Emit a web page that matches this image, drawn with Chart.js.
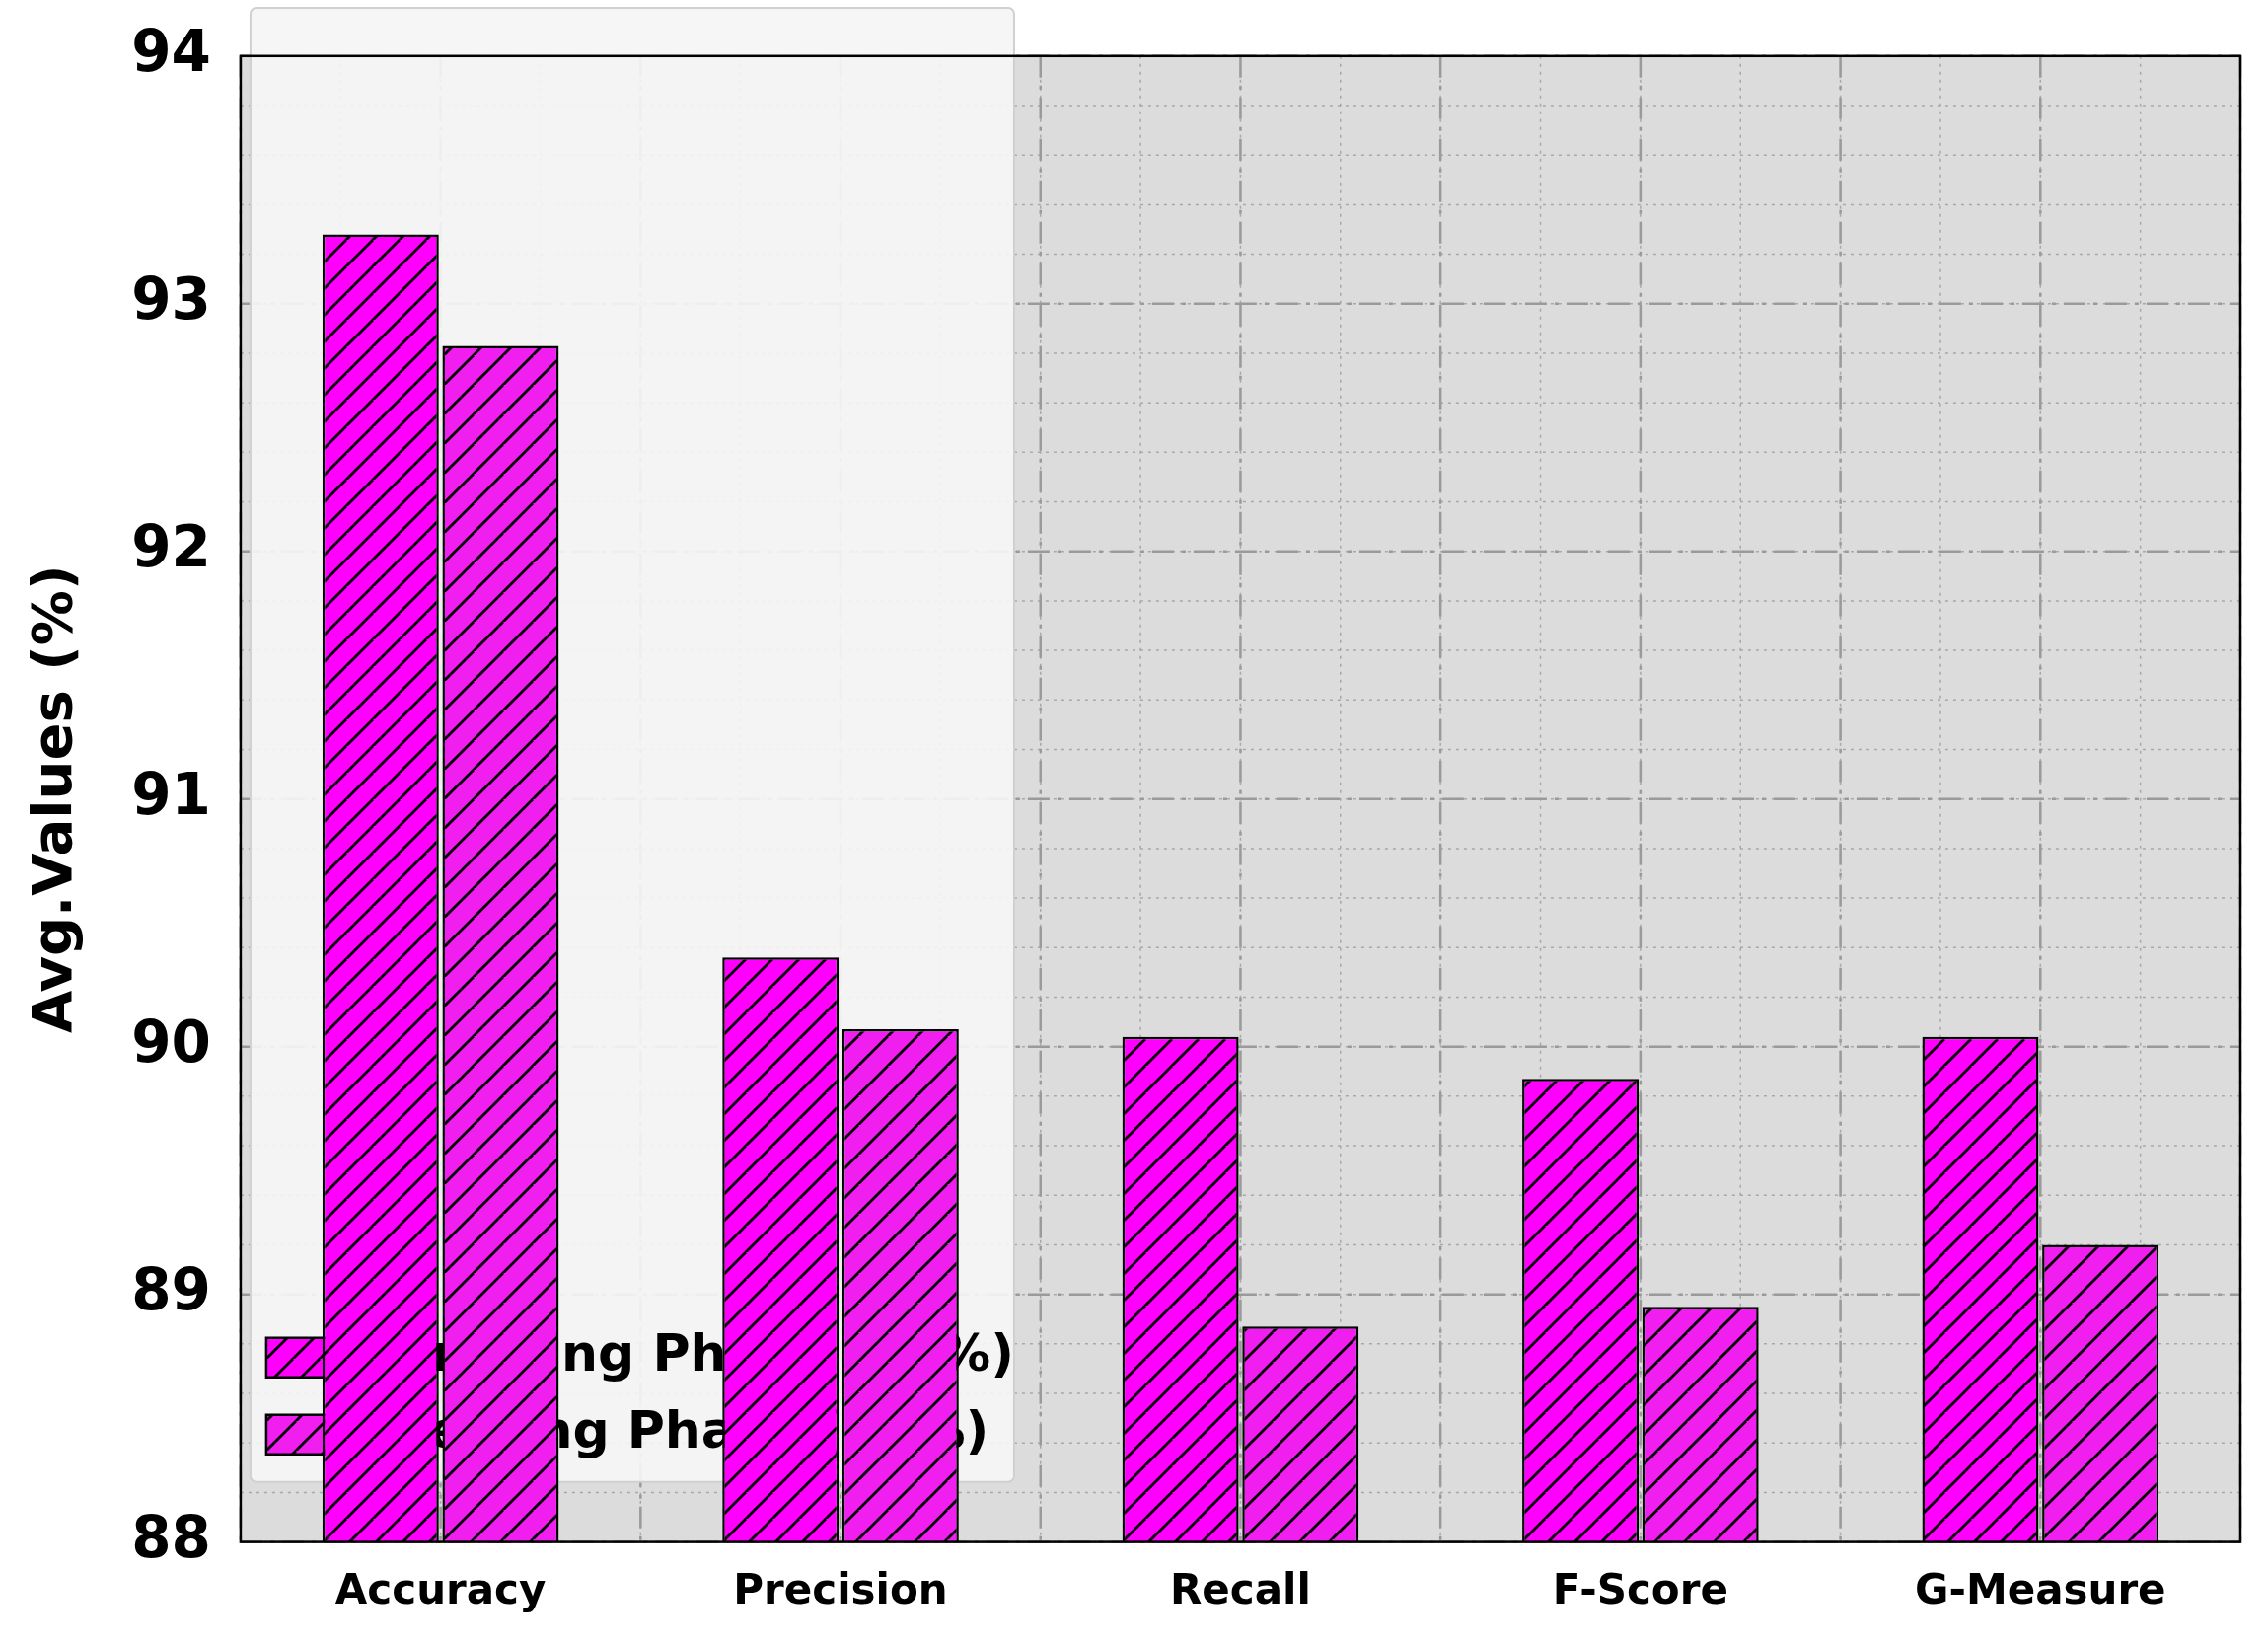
<!DOCTYPE html>
<html>
<head>
<meta charset="UTF-8">
<script src="https://cdn.jsdelivr.net/npm/chart.js"></script>
<style>
  body { margin: 0; background: #fff; }
  #wrap { width: 2299px; height: 1667px; }
</style>
</head>
<body>
<div id="wrap"><canvas id="chart" width="2299" height="1667"></canvas></div>
<script>
const categories = ['Accuracy', 'Precision', 'Recall', 'F-Score', 'G-Measure'];
const trainValues = [93.28, 90.36, 90.04, 89.87, 90.04];
const testValues = [92.83, 90.07, 88.87, 88.95, 89.20];
const yTicks = [88, 89, 90, 91, 92, 93, 94];

function hatch(color, step) {
    const c = document.createElement('canvas');
    c.width = step; c.height = step;
    const g = c.getContext('2d');
    g.fillStyle = color;
    g.fillRect(0, 0, step, step);
    g.strokeStyle = '#000';
    g.lineWidth = 2.8;
    g.beginPath();
    g.moveTo(0, step); g.lineTo(step, 0);
    g.moveTo(-step, step); g.lineTo(0, 0);
    g.moveTo(0, 2 * step); g.lineTo(2 * step, 0);
    g.stroke();
    return g.createPattern(c, 'repeat');
}
const ctx = document.getElementById('chart').getContext('2d');
const trainFill = hatch('#ff00ff', 27);
const testFill = hatch('#f01ff0', 30);

// grey background, dashed/dotted grid and legend backdrop, drawn before everything
const gridPlugin = {
    id: 'grid',
    beforeDraw(chart) {
        const { ctx, chartArea: a, scales: { x, y } } = chart;
        ctx.save();
        ctx.fillStyle = '#dcdcdc';
        ctx.fillRect(a.left, a.top, a.right - a.left, a.bottom - a.top);
        ctx.lineWidth = 1.5;
        ctx.strokeStyle = '#a8a8a8';
        ctx.setLineDash([3, 5]);
        for (let v = 88; v <= 94.001; v += 0.2) {
            const py = y.getPixelForValue(v);
            ctx.beginPath(); ctx.moveTo(a.left, py); ctx.lineTo(a.right, py); ctx.stroke();
        }
        const step = x.getPixelForValue(1) - x.getPixelForValue(0);
        for (let i = -2; i <= 24; i++) {
            const px = x.getPixelForValue(0) + i * step / 4;
            if (px < a.left || px > a.right) continue;
            ctx.beginPath(); ctx.moveTo(px, a.top); ctx.lineTo(px, a.bottom); ctx.stroke();
        }
        ctx.lineWidth = 2.5;
        ctx.strokeStyle = '#9a9a9a';
        ctx.setLineDash([22, 8, 4, 8]);
        for (let i = -1; i <= 10; i++) {
            const px = x.getPixelForValue(0) + i * step / 2;
            if (px < a.left || px > a.right) continue;
            ctx.beginPath(); ctx.moveTo(px, a.top); ctx.lineTo(px, a.bottom); ctx.stroke();
        }
        yTicks.forEach(v => {
            const py = y.getPixelForValue(v);
            ctx.beginPath(); ctx.moveTo(a.left, py); ctx.lineTo(a.right, py); ctx.stroke();
        });
        const lg = chart.legend;
        if (lg) {
            ctx.setLineDash([]);
            ctx.fillStyle = 'rgba(245,245,245,0.92)';
            ctx.strokeStyle = '#d0d0d0';
            ctx.lineWidth = 2;
            ctx.beginPath();
            ctx.roundRect(lg.left + 10, lg.top + 8, lg.width - 20, lg.height - 12, 6);
            ctx.fill(); ctx.stroke();
        }
        ctx.restore();
    },
    afterDraw(chart) {
        const { ctx, chartArea: a } = chart;
        ctx.save();
        ctx.strokeStyle = '#000';
        ctx.lineWidth = 2.5;
        ctx.strokeRect(a.left, a.top, a.right - a.left, a.bottom - a.top);
        ctx.restore();
    }
};

new Chart(ctx, {
    type: 'bar',
    data: {
        labels: categories,
        datasets: [
            { label: 'Training Phase (70%)', data: trainValues, backgroundColor: trainFill,
              borderColor: '#000', borderWidth: 2.5, borderSkipped: false,
              barPercentage: 0.97, categoryPercentage: 0.6 },
            { label: 'Testing Phase (30%)', data: testValues, backgroundColor: testFill,
              borderColor: '#000', borderWidth: 2.5, borderSkipped: false,
              barPercentage: 0.97, categoryPercentage: 0.6 }
        ]
    },
    options: {
        responsive: false,
        animation: false,
        layout: { padding: { top: 18, right: 28, bottom: 10, left: 20 } },
        scales: {
            x: {
                grid: { display: false },
                border: { display: false },
                ticks: { color: '#000', font: { family: 'DejaVu Sans', size: 42, weight: 'bold' }, padding: 18 }
            },
            y: {
                min: 88, max: 94,
                afterBuildTicks: s => { s.ticks = yTicks.map(v => ({ value: v })); },
                grid: { display: false },
                border: { display: false },
                ticks: { color: '#000', font: { family: 'DejaVu Sans', size: 58, weight: 'bold' }, padding: 22 },
                title: { display: true, text: 'Avg.Values (%)', color: '#000',
                         font: { family: 'DejaVu Sans', size: 56, weight: 'bold' }, padding: { bottom: 20 } }
            }
        },
        plugins: {
            legend: {
                position: 'chartArea',
                align: 'end',
                labels: { color: '#000', font: { family: 'DejaVu Sans', size: 52, weight: 'bold' },
                          boxWidth: 110, boxHeight: 40, padding: 26 }
            },
            tooltip: { enabled: false }
        }
    },
    plugins: [gridPlugin]
});
</script>
</body>
</html>
